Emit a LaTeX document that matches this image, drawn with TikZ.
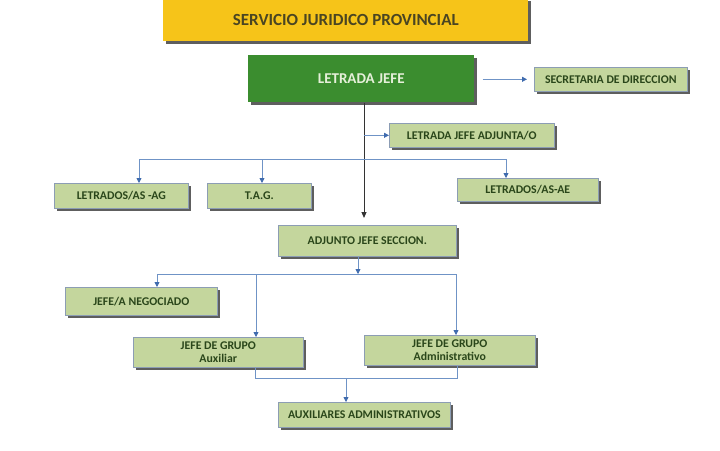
\documentclass[tikz,border=0pt]{standalone}
\usepackage{fontspec}
\setmainfont{Carlito}
\usetikzlibrary{arrows.meta,shadows,calc}
\definecolor{ylw}{HTML}{F6C419}
\definecolor{ylwtxt}{HTML}{4A4522}
\definecolor{dgreen}{HTML}{3B8D2F}
\definecolor{dgtxt}{HTML}{E6F0DA}
\definecolor{lgreen}{HTML}{C4D69D}
\definecolor{lgtxt}{HTML}{2A461A}
\definecolor{bordc}{HTML}{8C9DB4}
\definecolor{linec}{HTML}{6F93C6}
\definecolor{tipc}{HTML}{3F6BAE}
\definecolor{spinec}{HTML}{333333}
\tikzset{
  shad/.style={drop shadow={shadow xshift=3pt,shadow yshift=-3pt,fill=black!70,opacity=0.9}},
  box/.style={draw=bordc,line width=0.6pt,fill=lgreen,text=lgtxt,font=\bfseries\fontsize{11.8}{13}\selectfont,
    inner sep=0pt,anchor=north west,align=center,shad},
  conn/.style={draw=linec,line width=0.8pt},
  arr/.style={conn,-{Triangle[length=5pt,width=5pt,fill=tipc,color=tipc]}},
  spine/.style={draw=spinec,line width=1pt,-{Triangle[length=6pt,width=5pt]}}
}
\begin{document}
\begin{tikzpicture}[x=1pt,y=-1pt]
\useasboundingbox (0,0) rectangle (720,450);
% title
\node[box,fill=ylw,draw=none,text=ylwtxt,font=\bfseries\fontsize{17}{19}\selectfont,
  minimum width=365pt,minimum height=43pt] (title) at (163,-2) {SERVICIO JURIDICO PROVINCIAL};
% boss
\node[box,fill=dgreen,draw=none,text=dgtxt,font=\bfseries\fontsize{15}{17}\selectfont,
  minimum width=226pt,minimum height=47pt] (lj) at (248,55) {LETRADA JEFE};
\node[box,minimum width=153pt,minimum height=24pt] (sec) at (534,67) {SECRETARIA DE DIRECCION};
\node[box,minimum width=165pt,minimum height=24pt] (ljadj) at (389,123) {LETRADA JEFE ADJUNTA/O};
\node[box,minimum width=134pt,minimum height=25pt] (ag) at (54,183) {LETRADOS/AS -AG};
\node[box,minimum width=104pt,minimum height=25pt] (tag) at (207,183) {T.A.G.};
\node[box,minimum width=141pt,minimum height=23pt,drop shadow={shadow xshift=1pt,shadow yshift=-1pt,fill=black!30,opacity=0.5}] (ae) at (457,178) {LETRADOS/AS-AE};
\node[box,minimum width=178pt,minimum height=31pt] (adj) at (278,225) {ADJUNTO JEFE SECCION.};
\node[box,minimum width=152pt,minimum height=28pt] (neg) at (65,287) {JEFE/A NEGOCIADO};
\node[box,minimum width=170pt,minimum height=30pt] (gaux) at (133,337) {JEFE DE GRUPO\\Auxiliar};
\node[box,minimum width=171pt,minimum height=30pt] (gadm) at (364,335) {JEFE DE GRUPO\\Administrativo};
\node[box,minimum width=172pt,minimum height=25pt] (aux) at (278,402) {AUXILIARES ADMINISTRATIVOS};
% coordinates
\coordinate (sp) at (364,150);
% connectors
\draw[arr,shorten <=8pt,shorten >=7pt] (lj.east |- sec.west) -- (sec.west);
\draw[spine,shorten >=7pt] (lj.south -| sp) -- (adj.north -| sp);
\draw[arr] (sp |- ljadj.west) -- (ljadj.west);
\draw[conn] (139,159) coordinate (x1) -- (506,159) coordinate (x3);
\coordinate (x2) at (262,159);
\draw[arr] (x1) -- (x1 |- ag.north);
\draw[arr] (x2) -- (x2 |- tag.north);
\draw[arr] (x3) -- (x3 |- ae.north);
\coordinate (y0) at (358,274);
\draw[arr] (adj.south -| y0) -- (y0);
\draw[conn] (157,274) coordinate (y1) -- (456,274) coordinate (y3);
\coordinate (y2) at (256,274);
\draw[arr] (y1) -- (y1 |- neg.north);
\draw[arr] (y2) -- (y2 |- gaux.north);
\draw[arr] (y3) -- (y3 |- gadm.north);
\coordinate (z1) at (255,378);
\coordinate (z3) at (457,378);
\coordinate (z2) at (346,378);
\draw[conn] (gaux.south -| z1) -- (z1) -- (z3) -- (gadm.south -| z3);
\draw[arr] (z2) -- (z2 |- aux.north);
\end{tikzpicture}
\end{document}
